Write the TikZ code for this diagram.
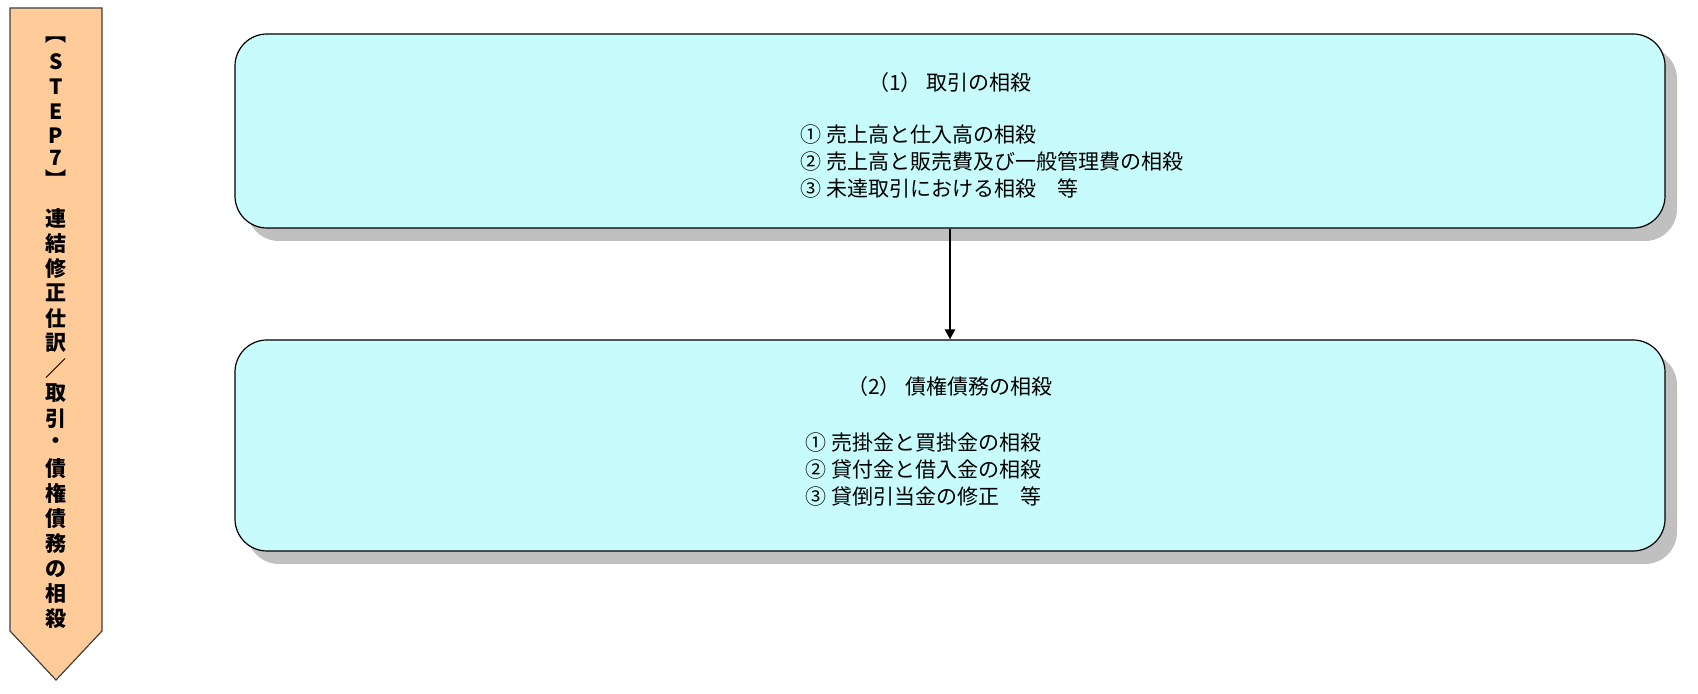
\documentclass[tikz,border=0pt]{standalone}
\usepackage{fontspec}
\setmainfont{Noto Sans CJK JP}
\usetikzlibrary{arrows.meta,shadows}
\definecolor{peach}{HTML}{FFCC99}
\definecolor{paleaqua}{HTML}{C8FCFC}
\definecolor{shadowgrey}{HTML}{C0C0C0}
\tikzset{
	rbox/.style={draw=black, line width=0.6pt, fill=paleaqua, rounded corners=16pt, minimum width=715pt, inner sep=0pt,
		drop shadow={shadow xshift=6pt, shadow yshift=-6.5pt, fill=shadowgrey, opacity=1}},
	boxtext/.style={inner sep=0pt, font=\fontsize{10.5}{13.4}\selectfont},
	vchar/.style={inner sep=0pt, font=\fontsize{10.5}{12}\selectfont\bfseries},
	flowarrow/.style={line width=1.3pt, -{Triangle[length=5pt, width=5pt]}}
}

\begin{document}
\begin{tikzpicture}[x=0.5pt, y=-0.5pt]
			%%%%% START %%%%%
			\useasboundingbox (0, 0) rectangle (1698, 694);
			
			\draw[fill=peach, draw=black!75, line width=0.6pt] (10, 8) -- (102, 8) -- (102, 631) -- (56, 680) -- (10, 631) -- cycle;
			
			\foreach \ch/\yy [count=\i] in {︻/40, S/62, T/87, E/112, P/136, 7/158, ︼/179}
				\node[vchar] (head\i) at (56, \yy) {\ch};
			\foreach \ch [count=\i from 0] in {連,結,修,正,仕,訳,／,取,引,・,債,権,債,務,の,相,殺}
				\node[vchar] (title\i) at (56, 218 + 25.06*\i) {\ch};
			
			\node[rbox, minimum height=97pt] (boxA) at (950, 131) {};
			\node[rbox, minimum height=105.5pt] (boxB) at (950, 445.5) {};
			
			\node[boxtext] (headA) at (950, 83) {（1） 取引の相殺};
			\node[boxtext, anchor=west, align=left] (listA) at (800, 161.5) {① 売上高と仕入高の相殺\\② 売上高と販売費及び一般管理費の相殺\\③ 未達取引における相殺　等};
			
			\node[boxtext] (headB) at (950, 387) {（2） 債権債務の相殺};
			\node[boxtext, anchor=west, align=left] (listB) at (805, 469.5) {① 売掛金と買掛金の相殺\\② 貸付金と借入金の相殺\\③ 貸倒引当金の修正　等};
			
			\draw[flowarrow] (boxA.south) -- (boxB.north);
			
			%%%%% END %%%%%
\end{tikzpicture}
\end{document}
